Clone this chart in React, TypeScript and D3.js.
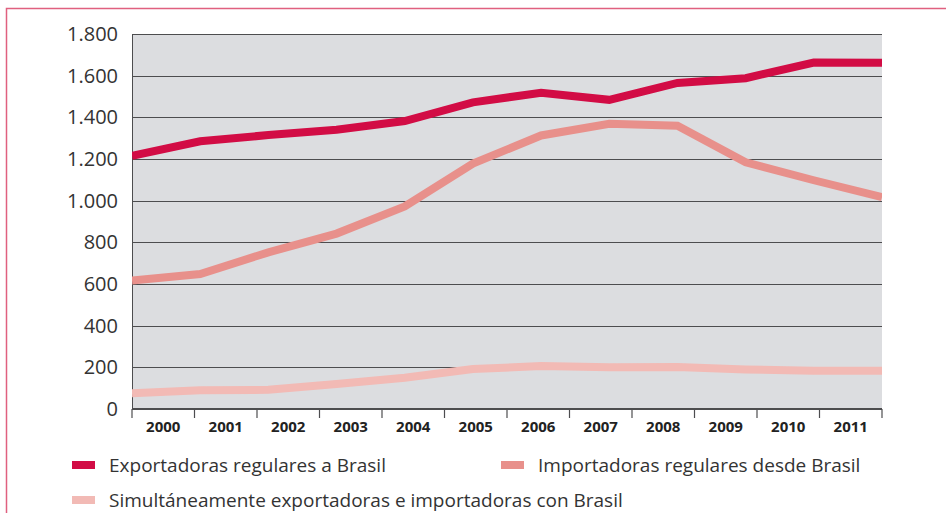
import * as d3 from 'd3'
import { useEffect, useRef } from 'react'

const years = ['2000', '2001', '2002', '2003', '2004', '2005', '2006', '2007', '2008', '2009', '2010', '2011']
const exportadoras = [1215, 1285, 1315, 1340, 1382, 1472, 1518, 1484, 1565, 1588, 1663, 1662]
const importadoras = [617, 648, 752, 842, 972, 1178, 1313, 1369, 1360, 1184, 1098, 1017]
const simultaneas = [76, 90, 92, 120, 150, 192, 206, 200, 202, 190, 184, 184]
const yTicks = [0, 200, 400, 600, 800, 1000, 1200, 1400, 1600, 1800]

const series = [
  { name: 'Exportadoras regulares a Brasil', values: exportadoras, color: '#d20c45' },
  { name: 'Importadoras regulares desde Brasil', values: importadoras, color: '#e8908b' },
  { name: 'Simultáneamente exportadoras e importadoras con Brasil', values: simultaneas, color: '#f2bab5' },
]

const fmt = (d: number) => d.toLocaleString('de-DE')

export default function App() {
  const ref = useRef<SVGSVGElement>(null)

  useEffect(() => {
    const width = 946
    const height = 513
    const margin = { top: 34, right: 64, bottom: 104, left: 132 }
    const w = width - margin.left - margin.right
    const h = height - margin.top - margin.bottom
    const font = "'Open Sans', sans-serif"

    const svg = d3.select(ref.current)
    svg.selectAll('*').remove()

    // pink frame
    svg.append('rect')
      .attr('x', 6.5).attr('y', 8.5)
      .attr('width', 960).attr('height', 520)
      .attr('fill', 'none')
      .attr('stroke', '#e0607f')
      .attr('stroke-width', 1.5)

    svg.append('clipPath').attr('id', 'plot-clip')
      .append('rect')
      .attr('x', margin.left).attr('y', margin.top - 10)
      .attr('width', w).attr('height', h + 10)

    const g = svg.append('g').attr('transform', `translate(${margin.left},${margin.top})`)

    const x = d3.scalePoint().domain(years).range([0, w])
    const xb = d3.scaleBand().domain(years).range([0, w])
    const y = d3.scaleLinear().domain([0, 1800]).range([h, 0])

    g.append('rect').attr('width', w).attr('height', h).attr('fill', '#dcdde0')

    // grid
    g.append('g')
      .selectAll('line')
      .data(yTicks.filter(d => d > 0))
      .enter().append('line')
      .attr('x1', 0).attr('x2', w)
      .attr('y1', d => Math.round(y(d)) + 0.5)
      .attr('y2', d => Math.round(y(d)) + 0.5)
      .attr('stroke', '#4d4d4f')
      .attr('stroke-width', 1.2)

    // left edge
    g.append('line')
      .attr('x1', 0.5).attr('x2', 0.5).attr('y1', 0).attr('y2', h)
      .attr('stroke', '#4d4d4f')

    // y labels
    g.append('g')
      .selectAll('text')
      .data(yTicks)
      .enter().append('text')
      .attr('x', -14)
      .attr('y', d => y(d))
      .attr('dy', '0.35em')
      .attr('text-anchor', 'end')
      .attr('font-family', font)
      .attr('font-size', 20)
      .attr('fill', '#333')
      .text(fmt)

    // lines
    const line = d3.line<number>()
      .x((_, i) => x(years[i]) as number)
      .y(d => y(d))

    const lines = svg.append('g').attr('clip-path', 'url(#plot-clip)')
      .append('g').attr('transform', `translate(${margin.left},${margin.top})`)
    series.slice().reverse().forEach(s => {
      lines.append('path')
        .datum(s.values)
        .attr('d', line)
        .attr('fill', 'none')
        .attr('stroke', s.color)
        .attr('stroke-width', 8)
        .attr('stroke-linejoin', 'miter')
    })

    // x axis
    g.append('line')
      .attr('x1', 0).attr('x2', w).attr('y1', h).attr('y2', h)
      .attr('stroke', '#4d4d4f').attr('stroke-width', 2)

    const bounds = years.map(d => xb(d) as number).concat([w])
    g.append('g')
      .selectAll('line')
      .data(bounds)
      .enter().append('line')
      .attr('x1', d => d).attr('x2', d => d)
      .attr('y1', h).attr('y2', h + 9)
      .attr('stroke', '#4d4d4f').attr('stroke-width', 1.2)

    g.append('g')
      .selectAll('text')
      .data(years)
      .enter().append('text')
      .attr('x', d => (xb(d) as number) + xb.bandwidth() / 2)
      .attr('y', h + 18)
      .attr('dy', '0.35em')
      .attr('text-anchor', 'middle')
      .attr('font-family', font)
      .attr('font-weight', 700)
      .attr('font-size', 15)
      .attr('fill', '#222')
      .text(d => d)

    // legend
    const legendPos = [
      { x: 72, y: 465 },
      { x: 501, y: 465 },
      { x: 72, y: 500 },
    ]
    series.forEach((s, i) => {
      const p = legendPos[i]
      svg.append('rect')
        .attr('x', p.x).attr('y', p.y - 4)
        .attr('width', 23).attr('height', 8)
        .attr('fill', s.color)
      svg.append('text')
        .attr('x', p.x + 37).attr('y', p.y)
        .attr('dy', '0.35em')
        .attr('font-family', font)
        .attr('font-size', 19)
        .attr('fill', '#333')
        .text(s.name)
    })
  }, [])

  return (
    <svg
      ref={ref}
      width={946}
      height={513}
      style={{ position: 'absolute', left: 0, top: 0, background: '#fff' }}
    />
  )
}
